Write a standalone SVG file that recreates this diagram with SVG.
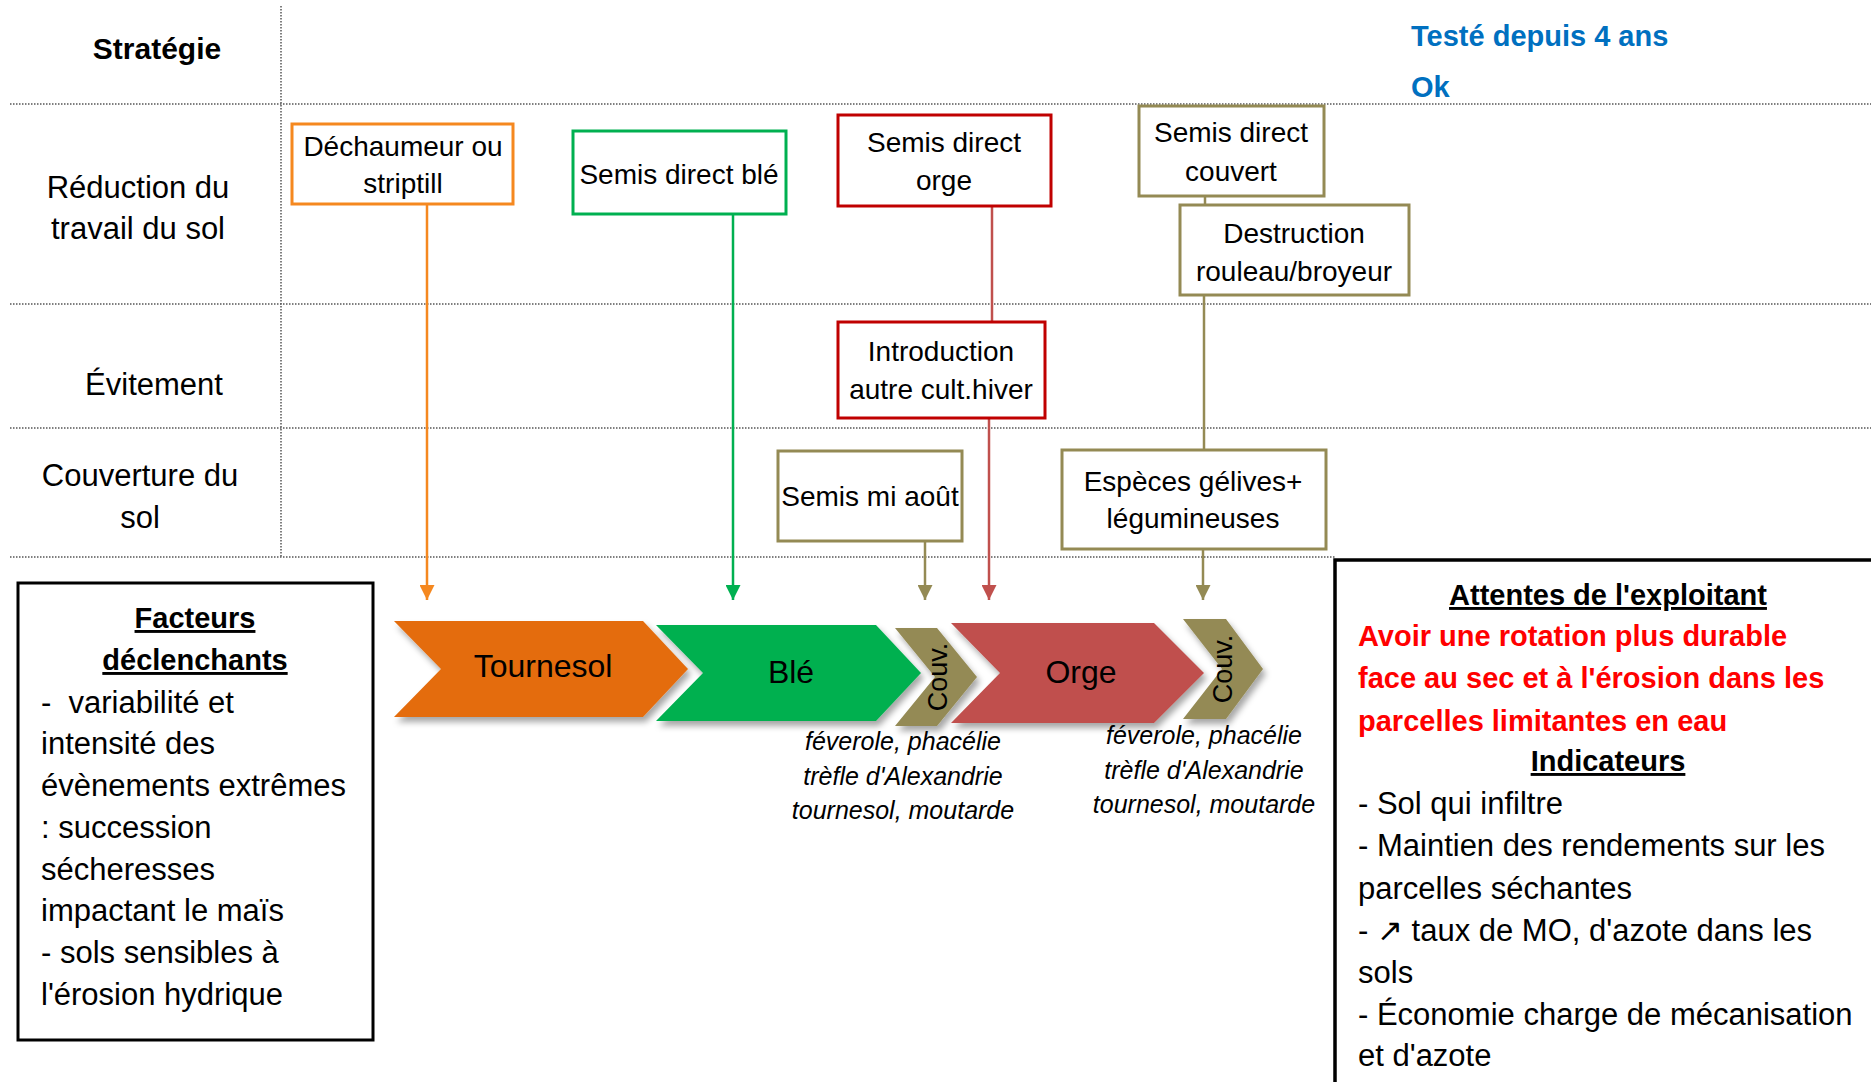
<svg xmlns="http://www.w3.org/2000/svg" width="1871" height="1082" viewBox="0 0 1871 1082">
<defs>
<style>
text{font-family:"Liberation Sans",Arial,sans-serif;fill:#000}
.lab{font-size:31px;text-anchor:middle}
.box{font-size:28px;text-anchor:middle}
.chv{font-size:32px;text-anchor:middle}
.couv{font-size:27px;text-anchor:middle}
.ital{font-size:25px;font-style:italic;text-anchor:middle}
.body{font-size:31px}
.hdr{font-size:29px;font-weight:bold;text-anchor:middle;text-decoration:underline}
.red{font-size:29px;font-weight:bold;fill:#FF0000}
.blue{font-size:29px;font-weight:bold;fill:#0070C0}
.grid{stroke:#555;stroke-width:1.5;stroke-dasharray:1.5 1.5;fill:none}
.nb{fill:#fff;stroke-width:3}
.conn{fill:none;stroke-width:2.5}
</style>
<marker id="aO" viewBox="0 0 10 10" refX="10" refY="5" markerUnits="userSpaceOnUse" markerWidth="15" markerHeight="15" orient="auto"><path d="M0,0 L10,5 L0,10 z" fill="#F5881F"/></marker>
<marker id="aG" viewBox="0 0 10 10" refX="10" refY="5" markerUnits="userSpaceOnUse" markerWidth="15" markerHeight="15" orient="auto"><path d="M0,0 L10,5 L0,10 z" fill="#00B050"/></marker>
<marker id="aR" viewBox="0 0 10 10" refX="10" refY="5" markerUnits="userSpaceOnUse" markerWidth="15" markerHeight="15" orient="auto"><path d="M0,0 L10,5 L0,10 z" fill="#C0504D"/></marker>
<marker id="aK" viewBox="0 0 10 10" refX="10" refY="5" markerUnits="userSpaceOnUse" markerWidth="15" markerHeight="15" orient="auto"><path d="M0,0 L10,5 L0,10 z" fill="#948A54"/></marker>
<filter id="sh" x="-10%" y="-10%" width="130%" height="130%"><feDropShadow dx="3" dy="5" stdDeviation="3" flood-color="#000" flood-opacity="0.35"/></filter>
</defs>
<rect width="1871" height="1082" fill="#fff"/>

<g id="grid">
<line class="grid" x1="281" y1="6" x2="281" y2="557"/>
<line class="grid" x1="10" y1="104" x2="1871" y2="104"/>
<line class="grid" x1="10" y1="304" x2="1871" y2="304"/>
<line class="grid" x1="10" y1="428" x2="1871" y2="428"/>
<line class="grid" x1="10" y1="557" x2="1335" y2="557"/>
</g>

<g id="row-labels">
<text x="157" y="59" font-size="30" font-weight="bold" text-anchor="middle">Stratégie</text>
<text class="lab" x="138" y="198">Réduction du</text>
<text class="lab" x="138" y="239">travail du sol</text>
<text class="lab" x="154" y="395">Évitement</text>
<text class="lab" x="140" y="486">Couverture du</text>
<text class="lab" x="140" y="528">sol</text>
</g>

<g id="legend-top">
<text class="blue" x="1411" y="46">Testé depuis 4 ans</text>
<text class="blue" x="1411" y="97">Ok</text>
</g>

<g id="connectors">
<path class="conn" stroke="#F5881F" d="M427 204 V600" marker-end="url(#aO)"/>
<path class="conn" stroke="#00B050" d="M733 214 V600" marker-end="url(#aG)"/>
<path class="conn" stroke="#C0504D" d="M992 206 V322"/>
<path class="conn" stroke="#C0504D" d="M989 418 V600" marker-end="url(#aR)"/>
<path class="conn" stroke="#948A54" d="M1205 196 V205"/>
<path class="conn" stroke="#948A54" d="M1204 295 V450"/>
<path class="conn" stroke="#948A54" d="M925 541 V600" marker-end="url(#aK)"/>
<path class="conn" stroke="#948A54" d="M1203 549 V600" marker-end="url(#aK)"/>
</g>

<g id="n-dechaumeur">
<rect class="nb" x="292" y="124" width="221" height="80" stroke="#F5881F"/>
<text class="box" x="403" y="156">Déchaumeur ou</text>
<text class="box" x="403" y="193">striptill</text>
</g>
<g id="n-semis-ble">
<rect class="nb" x="573" y="131" width="213" height="83" stroke="#00B050"/>
<text class="box" x="679" y="184">Semis direct blé</text>
</g>
<g id="n-semis-orge">
<rect class="nb" x="838" y="115" width="213" height="91" stroke="#C00000"/>
<text class="box" x="944" y="152">Semis direct</text>
<text class="box" x="944" y="190">orge</text>
</g>
<g id="n-introduction">
<rect class="nb" x="838" y="322" width="207" height="96" stroke="#C00000"/>
<text class="box" x="941" y="361">Introduction</text>
<text class="box" x="941" y="399">autre cult.hiver</text>
</g>
<g id="n-semis-couvert">
<rect class="nb" x="1139" y="106" width="185" height="90" stroke="#948A54"/>
<text class="box" x="1231" y="142">Semis direct</text>
<text class="box" x="1231" y="181">couvert</text>
</g>
<g id="n-destruction">
<rect class="nb" x="1180" y="205" width="229" height="90" stroke="#948A54"/>
<text class="box" x="1294" y="243">Destruction</text>
<text class="box" x="1294" y="281">rouleau/broyeur</text>
</g>
<g id="n-semis-aout">
<rect class="nb" x="778" y="451" width="184" height="90" stroke="#948A54"/>
<text class="box" x="870" y="506">Semis mi août</text>
</g>
<g id="n-especes">
<rect class="nb" x="1062" y="450" width="264" height="99" stroke="#948A54"/>
<text class="box" x="1193" y="491">Espèces gélives+</text>
<text class="box" x="1193" y="528">légumineuses</text>
</g>

<g id="n-tournesol">
<polygon points="394,621 643,621 688,669 643,717 394,717 441,669" fill="#E46C0A" filter="url(#sh)"/>
<text class="chv" x="543" y="677">Tournesol</text>
</g>
<g id="n-ble">
<polygon points="656,625 876,625 921,673 876,721 656,721 703,673" fill="#00B050" filter="url(#sh)"/>
<text class="chv" x="791" y="683">Blé</text>
</g>
<g id="n-couv1">
<polygon points="895,628 937,628 977,677 937,726 895,726 935,677" fill="#948A54" filter="url(#sh)"/>
<text class="couv" transform="translate(947 677) rotate(-90)">Couv.</text>
</g>
<g id="n-orge">
<polygon points="951,623 1154,623 1204,673 1154,723 951,723 1000,673" fill="#C0504D" filter="url(#sh)"/>
<text class="chv" x="1081" y="683">Orge</text>
</g>
<g id="n-couv2">
<polygon points="1183,619 1226,619 1263,669 1226,719 1183,719 1222,669" fill="#948A54" filter="url(#sh)"/>
<text class="couv" transform="translate(1232 669) rotate(-90)">Couv.</text>
</g>

<g id="n-couvert-especes-1">
<text class="ital" x="903" y="750">féverole, phacélie</text>
<text class="ital" x="903" y="785">trèfle d'Alexandrie</text>
<text class="ital" x="903" y="819">tournesol, moutarde</text>
</g>
<g id="n-couvert-especes-2">
<text class="ital" x="1204" y="744">féverole, phacélie</text>
<text class="ital" x="1204" y="779">trèfle d'Alexandrie</text>
<text class="ital" x="1204" y="813">tournesol, moutarde</text>
</g>

<g id="n-facteurs">
<rect x="18" y="583" width="355" height="457" fill="#fff" stroke="#000" stroke-width="3"/>
<text class="hdr" x="195" y="628">Facteurs</text>
<text class="hdr" x="195" y="670">déclenchants</text>
<text class="body" x="41" y="713">-&#160; variabilité et</text>
<text class="body" x="41" y="754">intensité des</text>
<text class="body" x="41" y="796">évènements extrêmes</text>
<text class="body" x="41" y="838">: succession</text>
<text class="body" x="41" y="880">sécheresses</text>
<text class="body" x="41" y="921">impactant le maïs</text>
<text class="body" x="41" y="963">- sols sensibles à</text>
<text class="body" x="41" y="1005">l'érosion hydrique</text>
</g>

<g id="n-attentes">
<rect x="1335" y="560" width="600" height="600" fill="#fff" stroke="#000" stroke-width="3.5"/>
<text class="hdr" x="1608" y="605" font-size="30">Attentes de l'exploitant</text>
<text class="red" x="1358" y="646">Avoir une rotation plus durable</text>
<text class="red" x="1358" y="688">face au sec et à l'érosion dans les</text>
<text class="red" x="1358" y="731">parcelles limitantes en eau</text>
<text class="hdr" x="1608" y="771" font-size="30">Indicateurs</text>
<text class="body" x="1358" y="814">- Sol qui infiltre</text>
<text class="body" x="1358" y="856">- Maintien des rendements sur les</text>
<text class="body" x="1358" y="899">parcelles séchantes</text>
<text class="body" x="1358" y="941">- ↗ taux de MO, d'azote dans les</text>
<text class="body" x="1358" y="983">sols</text>
<text class="body" x="1358" y="1025">- Économie charge de mécanisation</text>
<text class="body" x="1358" y="1066">et d'azote</text>
</g>
</svg>
